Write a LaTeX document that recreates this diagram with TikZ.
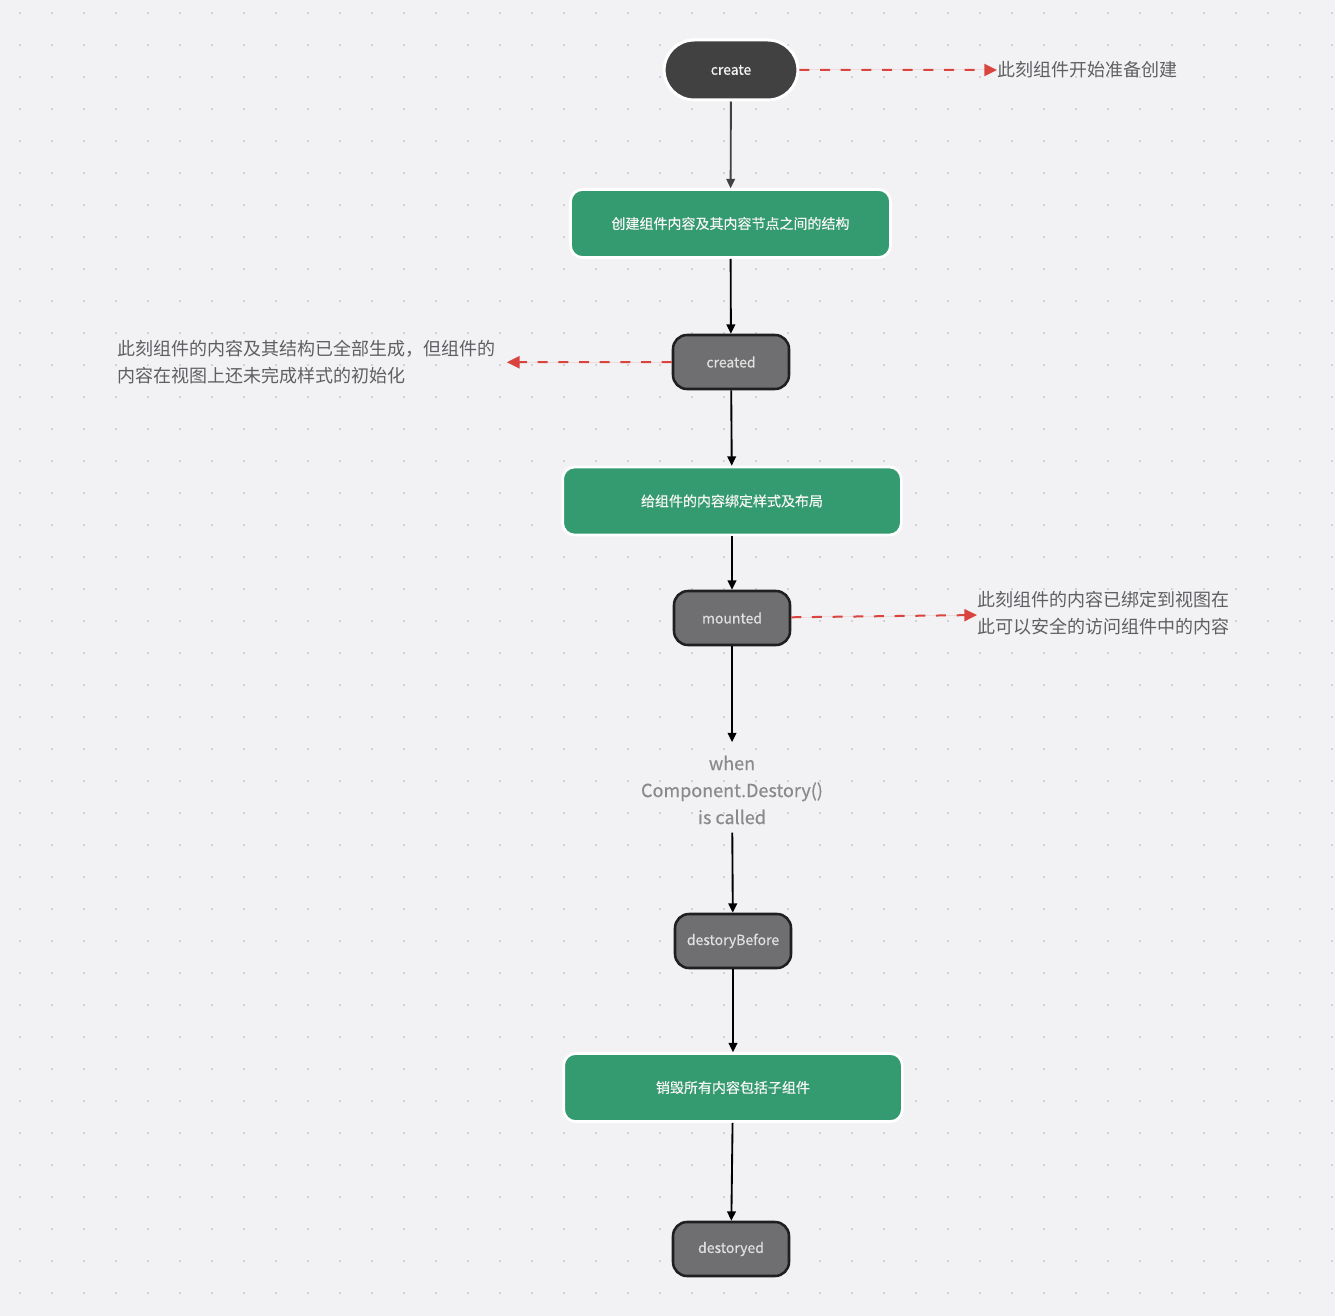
\documentclass[tikz,border=0pt]{standalone}
\usepackage{fontspec}
\setmainfont{Noto Sans CJK SC}
\newfontfamily\medfont{Noto Sans CJK SC}[FakeBold=0.5]
\usetikzlibrary{
        arrows.meta,
        positioning,
        shapes.misc
    }
\definecolor{paper}{HTML}{F2F2F4}
\definecolor{griddot}{HTML}{D2D2D5}
\definecolor{startgray}{HTML}{414141}
\definecolor{hookgray}{HTML}{6F6F71}
\definecolor{hookline}{HTML}{1F1F1F}
\definecolor{stepgreen}{HTML}{349A6F}
\definecolor{notered}{HTML}{D9443F}
\definecolor{notegray}{HTML}{5F5F63}
\definecolor{whengray}{HTML}{8A8A8C}
\tikzset{>={Triangle[length=7pt,width=6.5pt]}}
\tikzset{
    startbox/.style={rounded rectangle, fill=startgray, draw=white, line width=2.25pt,
        minimum width=107pt, minimum height=45pt, text=white!95!black,
        font=\medfont\fontsize{10.5}{12}\selectfont},
    greenbox/.style={rounded corners=9pt, fill=stepgreen, draw=white, line width=2pt,
        minimum height=51pt, text=white!96!black,
        font=\medfont\fontsize{10.5}{12}\selectfont},
    hookbox/.style={rounded corners=10.5pt, fill=hookgray, draw=hookline, line width=1.9pt,
        minimum width=87pt, minimum height=40.5pt, text=white!88!black,
        font=\medfont\fontsize{10.5}{12}\selectfont},
    whenlabel/.style={align=center, text=whengray, inner sep=6pt,
        font=\medfont\fontsize{13.5}{20.25}\selectfont},
    notelabel/.style={align=left, text=notegray, inner sep=0pt,
        font=\fontsize{13.5}{20.25}\selectfont},
    flow/.style={->, line width=1.4pt, draw=black, fill=black},
    notearrow/.style={-{Triangle[length=9.5pt,width=9pt]}, dash pattern=on 7.5pt off 8pt,
        line width=1.5pt, draw=notered, fill=notered}
}
\begin{document}
\begin{tikzpicture}[x=0.75pt,y=-0.75pt]
    \useasboundingbox (0,0) rectangle (1335,1316);
    \fill[paper] (0,0) rectangle (1335,1316);
    % dotted paper
    \foreach \i in {0,...,41}
        \foreach \j in {0,...,40}
            \fill[griddot] ({19+32*\i},{12+32*\j}) rectangle +(2,2);

    % lifecycle
    \node[startbox] (create) at (731,70) {create};
    \node[greenbox, minimum width=240pt] (build) at (730.5,223.5) {创建组件内容及其内容节点之间的结构};
    \node[hookbox] (created) at (731,362) {created};
    \node[greenbox, minimum width=254pt] (bind) at (732,501) {给组件的内容绑定样式及布局};
    \node[hookbox] (mounted) at (732,618) {mounted};
    \node[whenlabel] (when) at (732,790) {when\\Component.Destory()\\is called};
    \node[hookbox] (before) at (733,941) {destoryBefore};
    \node[greenbox, minimum width=254pt] (destroy) at (733,1087.5) {销毁所有内容包括子组件};
    \node[hookbox] (destroyed) at (731,1249) {destoryed};

    % notes
    \node[notelabel, anchor=west] (startnote) at (997,70) {此刻组件开始准备创建};
    \node[notelabel, anchor=west, inner xsep=8pt] (creatednote) at (107,362.5)
        {此刻组件的内容及其结构已全部生成，但组件的\\内容在视图上还未完成样式的初始化};
    \node[notelabel, anchor=west] (mountednote) at (977,613.5)
        {此刻组件的内容已绑定到视图在\\此可以安全的访问组件中的内容};

    \draw[flow, draw=startgray, fill=startgray] (create) -- (build);
    \draw[flow] (build) -- (created);
    \draw[flow] (created) -- (bind);
    \draw[flow] (bind) -- (mounted);
    \draw[flow, shorten >=4pt] (mounted) -- (when);
    \draw[flow] (when) -- (before);
    \draw[flow] (before) -- (destroy);
    \draw[flow] (destroy) -- (destroyed);

    \draw[notearrow] (create) -- (startnote);
    \draw[notearrow] (created) -- (creatednote);
    \draw[notearrow] (mounted) -- (mountednote);
\end{tikzpicture}
\end{document}
